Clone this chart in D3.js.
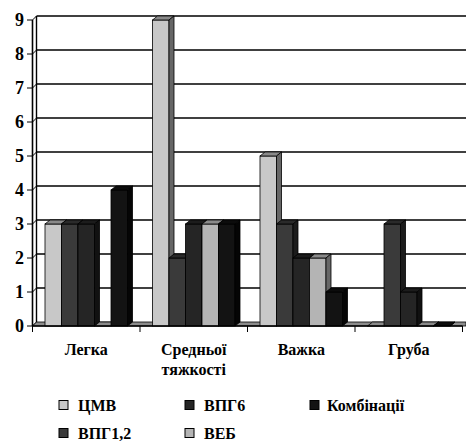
<!DOCTYPE html>
<html>
<head>
<meta charset="utf-8">
<script src="https://cdn.jsdelivr.net/npm/d3@7"></script>
</head>
<body style="margin:0">
<script>
// ---- data ----
const categories = ["Легка", "Средньої тяжкості", "Важка", "Груба"];
const series = ["ЦМВ", "ВПГ1,2", "ВПГ6", "ВЕБ", "Комбінації"];
const values = [
  [3, 9, 5, 0],   // ЦМВ
  [3, 2, 3, 3],   // ВПГ1,2
  [3, 3, 2, 1],   // ВПГ6
  [0, 3, 2, 0],   // ВЕБ
  [4, 3, 1, 0]    // Комбінації
];
const yTicks = [0, 1, 2, 3, 4, 5, 6, 7, 8, 9];

// colours: front, top, side
const fills = [
  {front: "#c8c8c8", top: "#8a8a8a", side: "#666"},
  {front: "#3a3a3a", top: "#2a2a2a", side: "#1c1c1c"},
  {front: "#252525", top: "#1c1c1c", side: "#111"},
  {front: "#b4b4b4", top: "#8a8a8a", side: "#666"},
  {front: "#131313", top: "#0c0c0c", side: "#050505"}
];

// ---- setup ----
const width = 466, height = 441;
const dx = 5, dy = 4;   // 3d depth offset

const svg = d3.select("body").append("svg")
    .attr("width", width)
    .attr("height", height)
    .style("display", "block");

const x = d3.scaleBand().domain(categories).range([32.5, 462.5]);
const xs = d3.scaleBand().domain(series).range([12.5, x.bandwidth() - 12.5]);
const y = d3.scaleLinear().domain([0, 9]).range([326, 20]);
const y0 = y(0);

function label(sel, size) {
  return sel.style("font-family", "'Times New Roman'")
    .style("font-weight", "bold")
    .style("font-size", size + "px");
}

// ---- walls & grid ----
svg.selectAll(".grid")
  .data(yTicks.filter(d => d > 0))
  .enter().append("line")
    .attr("x1", 32.5 + dx - 1).attr("x2", width)
    .attr("y1", d => y(d) - dy).attr("y2", d => y(d) - dy)
    .attr("stroke", "#000").attr("stroke-width", 1.6);

svg.selectAll(".diag")
  .data(yTicks)
  .enter().append("line")
    .attr("x1", 32.5).attr("x2", 32.5 + dx - 1)
    .attr("y1", d => y(d)).attr("y2", d => y(d) - dy)
    .attr("stroke", "#000").attr("stroke-width", 1);

svg.append("line")
    .attr("x1", 32.5 + dx - 1).attr("x2", 32.5 + dx - 1)
    .attr("y1", y(9) - dy).attr("y2", y0 - dy)
    .attr("stroke", "#000").attr("stroke-width", 1.4);

// floor
svg.append("path")
    .attr("d", `M32.5,${y0} L${32.5 + dx - 1},${y0 - dy} L${width},${y0 - dy} L${width},${y0} Z`)
    .attr("fill", "#8c8c8c")
    .attr("stroke", "#000")
    .attr("stroke-width", 0.8);

// ---- bars ----
const bars = [];
categories.forEach((c, ci) => {
  series.forEach((s, si) => bars.push({cat: c, ser: s, si, value: values[si][ci]}));
});

const bar = svg.append("g").selectAll(".bar")
  .data(bars)
  .enter().append("g");

const bw = xs.bandwidth();
const bx = d => x(d.cat) + xs(d.ser);

bar.append("rect")
    .attr("x", bx)
    .attr("y", d => y(d.value))
    .attr("width", bw)
    .attr("height", d => y0 - y(d.value))
    .attr("fill", d => fills[d.si].front)
    .attr("stroke", "#000").attr("stroke-width", 0.8);

bar.append("path")
    .attr("d", d => {
      const x0 = bx(d), yt = y(d.value);
      return `M${x0},${yt} L${x0 + dx},${yt - dy} L${x0 + bw + dx},${yt - dy} L${x0 + bw},${yt} Z`;
    })
    .attr("fill", d => fills[d.si].top)
    .attr("stroke", "#000").attr("stroke-width", 0.8);

bar.append("path")
    .attr("d", d => {
      const x1 = bx(d) + bw, yt = y(d.value);
      return `M${x1},${yt} L${x1 + dx},${yt - dy} L${x1 + dx},${y0 - dy} L${x1},${y0} Z`;
    })
    .attr("fill", d => fills[d.si].side)
    .attr("stroke", "#000").attr("stroke-width", 0.8);

// ---- axes ----
svg.append("line")
    .attr("x1", 32.5).attr("x2", 32.5)
    .attr("y1", y(9)).attr("y2", y0)
    .attr("stroke", "#000").attr("stroke-width", 1.6);
svg.selectAll(".ytick")
  .data(yTicks)
  .enter().append("line")
    .attr("x1", 27).attr("x2", 32.5)
    .attr("y1", d => y(d)).attr("y2", d => y(d))
    .attr("stroke", "#000");
svg.selectAll(".ylab")
  .data(yTicks)
  .enter().append("text")
    .attr("x", 24)
    .attr("y", d => y(d) + 6)
    .attr("text-anchor", "end")
    .call(label, 18)
    .text(d => d);

svg.append("line")
    .attr("x1", 32.5).attr("x2", 462.5)
    .attr("y1", y0).attr("y2", y0)
    .attr("stroke", "#000").attr("stroke-width", 1.6);
svg.selectAll(".xtick")
  .data(categories.map(c => x(c)).concat([462.5]))
  .enter().append("line")
    .attr("x1", d => d).attr("x2", d => d)
    .attr("y1", y0).attr("y2", y0 + 6)
    .attr("stroke", "#000");

categories.forEach(c => {
  c.split(" ").forEach((w, i) => {
    svg.append("text")
      .attr("x", x(c) + x.bandwidth() / 2)
      .attr("y", 355 + i * 20)
      .attr("text-anchor", "middle")
      .call(label, 16)
      .text(w);
  });
});

// ---- legend ----
const legendPos = [[59, 405], [59, 433], [185, 405], [185, 433], [310, 405]];
const lg = svg.append("g").selectAll(".leg")
  .data(series)
  .enter().append("g")
    .attr("transform", (d, i) => `translate(${legendPos[i][0]},${legendPos[i][1]})`);
lg.append("rect")
    .attr("x", 0).attr("y", -4.5)
    .attr("width", 9).attr("height", 9)
    .attr("fill", (d, i) => fills[i].front)
    .attr("stroke", "#000").attr("stroke-width", 1);
lg.append("text")
    .attr("x", (d, i) => i === 4 ? 17 : 19)
    .attr("y", 5.5)
    .call(label, 16)
    .text(d => d);
</script>
</body>
</html>
